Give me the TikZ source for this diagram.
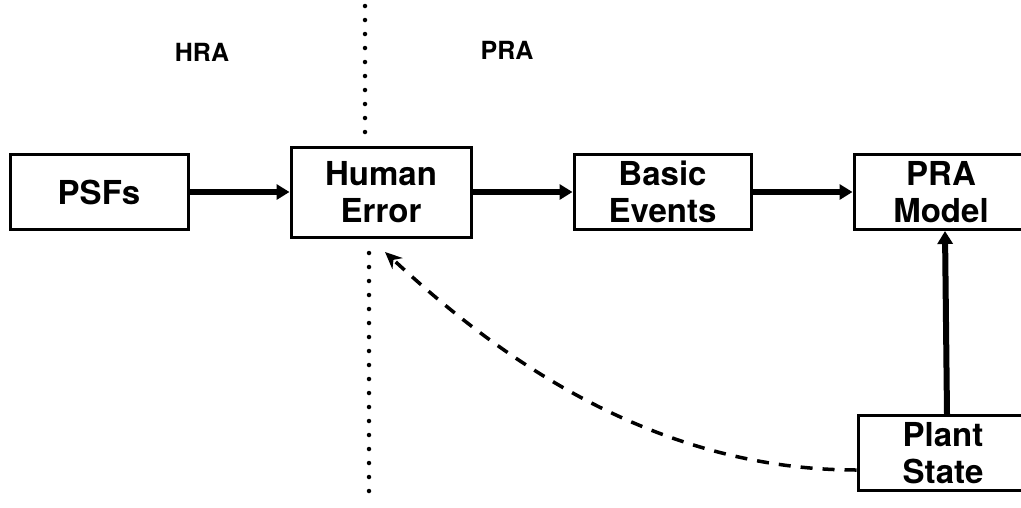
\documentclass[tikz,border=0pt]{standalone}
\usepackage{fontspec}
\setmainfont{TeX Gyre Heros}
\usetikzlibrary{arrows.meta, positioning}
\tikzstyle{block}    = [rectangle, draw=black, line width=3pt, minimum width=178pt, minimum height=75pt,
                        inner sep=0pt, align=center, font=\fontsize{33}{37}\selectfont\bfseries]
\tikzstyle{region}   = [font=\fontsize{25}{29}\selectfont\bfseries]
\tikzstyle{arrow}    = [line width=6pt, -{Triangle[length=13pt,width=15pt]}]
\tikzstyle{feedback} = [line width=3.5pt, dash pattern=on 12pt off 10pt, -{Stealth[length=17pt,width=15pt]}]
\tikzstyle{divider}  = [line width=4.5pt, line cap=round, dash pattern=on 0pt off 14pt]

\begin{document}
\begin{tikzpicture}[x=1pt, y=-1pt, node distance=100pt]
    \useasboundingbox (0,0) rectangle (1021,507);

    \node (hra) [region] at (202,52) {HRA};
    \node (pra) [region] at (507,50) {PRA};

    \node (psf) [block] at (99,192) {PSFs};
    \node (human) [block, minimum width=180pt, minimum height=90pt, right=of psf] {Human\\Error};
    \node (basic) [block, minimum width=177pt, right=of human] {Basic\\Events};
    \node (model) [block, minimum width=174pt, right=of basic] {PRA\\Model};
    \node (plant) [block, minimum width=170pt, below=183pt of model, xshift=2pt] {Plant\\State};
    \coordinate (fbtip) at (385,252);

    % HRA / PRA boundary
    \draw[divider] (365,6) -- (365,136);
    \draw[divider] (369,253) -- (369,505);

    \draw[arrow] (psf) -- (human);
    \draw[arrow] (human) -- (basic);
    \draw[arrow] (basic) -- (model);
    \draw[arrow] ([xshift=4pt]plant.north) -- ([xshift=4pt]model.south);
    \draw[feedback] ([yshift=-17pt]plant.west) .. controls (640,470) and (480,340) .. (fbtip);
\end{tikzpicture}
\end{document}
